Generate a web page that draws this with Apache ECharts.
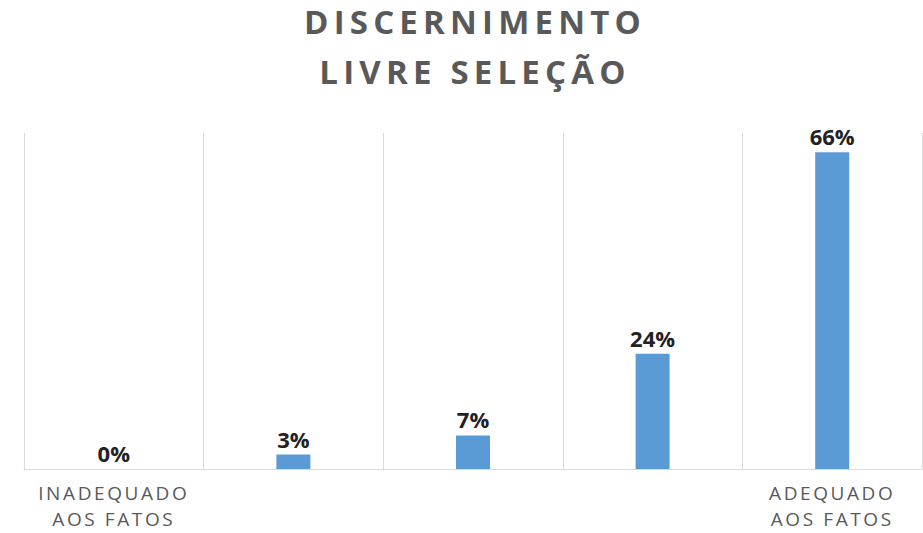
<!DOCTYPE html>
<html>
<head>
<meta charset="utf-8">
<script src="https://cdn.jsdelivr.net/npm/echarts@6/dist/echarts.min.js"></script>
<style>
html,body{margin:0;padding:0;background:#fff;}
#chart{width:923px;height:533px;}
svg text[style*="33px"]{letter-spacing:5.2px;}
svg text[style*="19px"]{letter-spacing:2.6px;}
</style>
</head>
<body>
<div id="chart"></div>
<script>
var titleLines = ['DISCERNIMENTO', 'LIVRE SELEÇÃO'];
var categories = ['1', '2', '3', '4', '5'];
var tickLabels = ['INADEQUADO\nAOS FATOS', '', '', '', 'ADEQUADO\nAOS FATOS'];
var values = [0, 3, 7, 24, 66];

var titleStyle = {
  fontFamily: 'Open Sans',
  fontWeight: 'bold',
  fontSize: 33,
  lineHeight: 42,
  color: '#595959'
};

var chart = echarts.init(document.getElementById('chart'), null, {renderer: 'svg'});
chart.setOption({
  animation: false,
  title: titleLines.map(function (t, i) {
    return {
      text: t,
      left: 475,
      top: i * 51 - 1 < 0 ? 0 : i * 51 - 1,
      padding: 0,
      textAlign: 'center',
      textStyle: titleStyle
    };
  }),
  grid: {left: 24, right: 1, top: 133, bottom: 64, containLabel: false, outerBoundsMode: 'none'},
  xAxis: {
    type: 'category',
    data: categories,
    axisLine: {show: true, lineStyle: {color: '#d9d9d9', width: 1}},
    axisTick: {show: false},
    splitLine: {show: true, lineStyle: {color: '#d9d9d9', width: 1}},
    axisLabel: {
      interval: 0,
      margin: 11,
      fontFamily: 'Open Sans',
      fontSize: 19,
      lineHeight: 26,
      color: '#595959',
      formatter: function (v, i) { return tickLabels[i]; }
    }
  },
  yAxis: {
    type: 'value',
    min: 0,
    max: 70,
    show: false,
    splitLine: {show: false}
  },
  series: [{
    type: 'bar',
    data: values,
    barWidth: 34,
    itemStyle: {color: '#5b9bd5'},
    label: {
      show: true,
      position: 'top',
      distance: 5,
      formatter: '{c}%',
      fontFamily: 'Open Sans',
      fontWeight: 'bold',
      fontSize: 22,
      color: '#222222'
    }
  }]
});
</script>
</body>
</html>
